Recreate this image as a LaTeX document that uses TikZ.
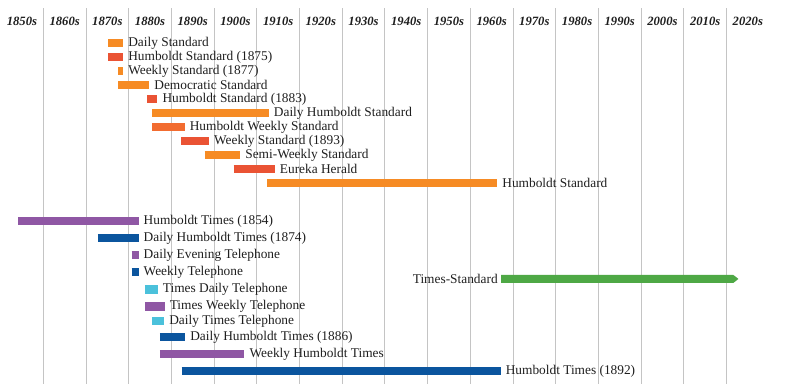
\documentclass[tikz,border=0pt]{standalone}
\usepackage{fontspec}
\setmainfont{Liberation Serif}
\usepackage{tikz}
\usetikzlibrary{positioning}

\definecolor{stdorange}{HTML}{F68B24}
\definecolor{stdred}{HTML}{EA5334}
\definecolor{stdmid}{HTML}{F26C30}
\definecolor{timespurple}{HTML}{8F57A4}
\definecolor{timesblue}{HTML}{0B559E}
\definecolor{timescyan}{HTML}{4BC1DB}
\definecolor{tsgreen}{HTML}{4EA845}
\definecolor{gridgray}{HTML}{C4C4C4}
\definecolor{txt}{HTML}{1E1E1E}

\begin{document}
\begin{tikzpicture}[x={(0.10675cm,0)}, y={(0,-0.025cm)}, shift={(-1850,0)},
    bar/.style={line width=6pt},
    lbl/.style={anchor=west, inner sep=0.7pt, text=txt, font=\fontsize{9.5}{11}\selectfont},
    decade/.style={text=txt, font=\fontsize{9}{11}\selectfont\bfseries\itshape},
    grid line/.style={gridgray, line width=0.7pt}]
\useasboundingbox (1849.86,0) rectangle (2034.87,384);

% decades and grid
\foreach \d in {1860,1870,...,2020}
    \draw[grid line] (\d,8) -- (\d,384);
\foreach \d in {1850,1860,...,2020}
    \node[decade] (dec\d) at (\d+5,21) {\d s};

% the Standard papers
\draw[bar,stdorange] (1875.2,43) -- (1878.7,43) node[lbl] (dailystd) {Daily Standard};
\draw[bar,stdred] (1875.2,57) -- (1878.7,57) node[lbl] (hstd75) {Humboldt Standard (1875)};
\draw[bar,stdorange] (1877.6,71) -- (1878.7,71) node[lbl] (wstd77) {Weekly Standard (1877)};
\draw[bar,stdorange] (1877.6,85) -- (1884.8,85) node[lbl] (demstd) {Democratic Standard};
\draw[bar,stdred] (1884.4,99) -- (1886.7,99) node[lbl] (hstd83) {Humboldt Standard (1883)};
\draw[bar,stdorange] (1885.5,113) -- (1912.8,113) node[lbl] (dhstd) {Daily Humboldt Standard};
\draw[bar,stdmid] (1885.5,127) -- (1893.1,127) node[lbl] (hwstd) {Humboldt Weekly Standard};
\draw[bar,stdred] (1892.3,141) -- (1898.8,141) node[lbl] (wstd93) {Weekly Standard (1893)};
\draw[bar,stdorange] (1897.8,155) -- (1906.1,155) node[lbl] (swstd) {Semi-Weekly Standard};
\draw[bar,stdred] (1904.6,169) -- (1914.2,169) node[lbl] (eureka) {Eureka Herald};
\draw[bar,stdorange] (1912.4,183) -- (1966.3,183) node[lbl] (hstd) {Humboldt Standard};

% the Times papers
\draw[bar,timespurple] (1854.1,221) -- (1882.3,221) node[lbl] (htimes54) {Humboldt Times (1854)};
\draw[bar,timesblue] (1872.8,238) -- (1882.3,238) node[lbl] (dhtimes74) {Daily Humboldt Times (1874)};
\draw[bar,timespurple] (1880.7,255) -- (1882.3,255) node[lbl] (detel) {Daily Evening Telephone};
\draw[bar,timesblue] (1880.7,272) -- (1882.3,272) node[lbl] (wtel) {Weekly Telephone};
\draw[bar,timescyan] (1883.8,289.5) -- (1886.8,289.5) node[lbl] (tdtel) {Times Daily Telephone};
\draw[bar,timespurple] (1883.8,306.5) -- (1888.4,306.5) node[lbl] (twtel) {Times Weekly Telephone};
\draw[bar,timescyan] (1885.5,321) -- (1888.3,321) node[lbl] (dttel) {Daily Times Telephone};
\draw[bar,timesblue] (1887.3,337) -- (1893.2,337) node[lbl] (dhtimes86) {Daily Humboldt Times (1886)};
\draw[bar,timespurple] (1887.3,354) -- (1907.1,354) node[lbl] (whtimes) {Weekly Humboldt Times};
\draw[bar,timesblue] (1892.4,371) -- (1967.1,371) node[lbl] (htimes92) {Humboldt Times (1892)};

% Times-Standard
\fill[tsgreen] (1967.2,275) -- (2021.6,275) -- (2022.8,279) -- (2021.6,283) -- (1967.2,283) -- cycle;
\coordinate (tsstart) at (1967.2,279);
\node[lbl, anchor=east, inner sep=2.2pt] (tstd) at (tsstart) {Times-Standard};
\end{tikzpicture}
\end{document}
